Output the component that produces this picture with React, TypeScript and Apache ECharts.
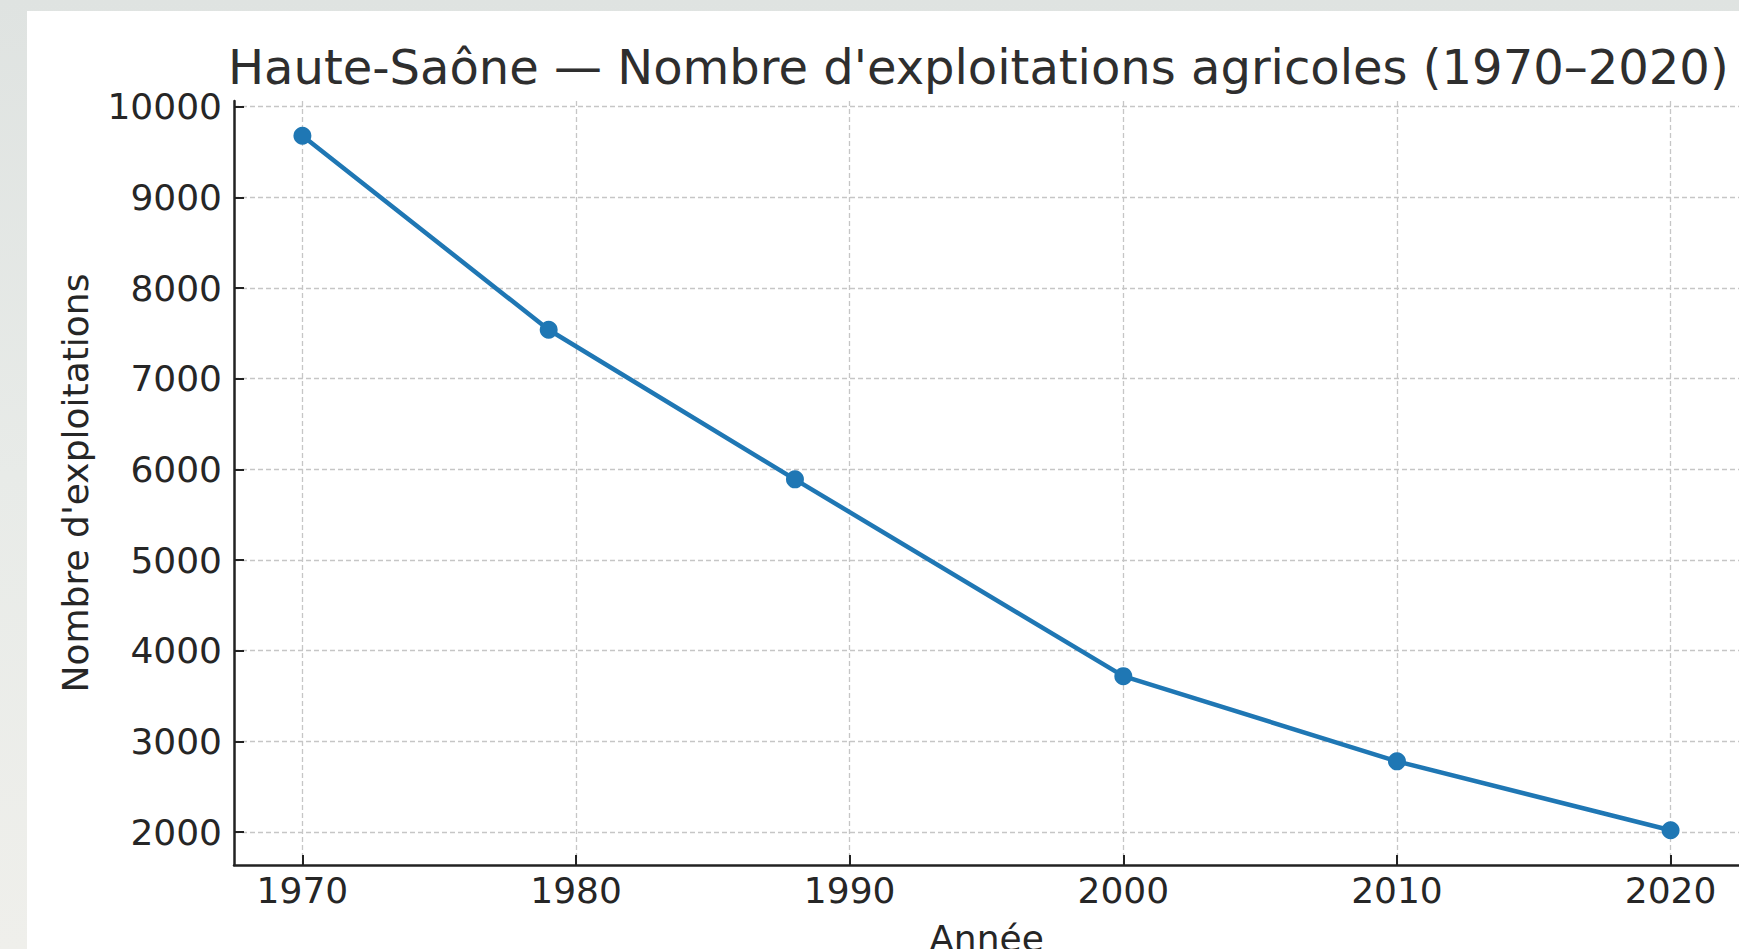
import React, { useEffect, useRef } from "react";
import * as echarts from "echarts";

const TITLE = "Haute-Saône — Nombre d'exploitations agricoles (1970–2020)";
const X_NAME = "Année";
const Y_NAME = "Nombre d'exploitations";

const years = [1970, 1979, 1988, 2000, 2010, 2020];
const farms = [9680, 7540, 5890, 3720, 2780, 2020];
const xTicks = [1970, 1980, 1990, 2000, 2010, 2020];
const yTicks = [2000, 3000, 4000, 5000, 6000, 7000, 8000, 9000, 10000];

const FONT = "DejaVu Sans";
const TEXT = "#262626";
const AXIS = "#222222";
const GRIDC = "#c6c6c6";

export default function App() {
  const ref = useRef<HTMLDivElement>(null);
  useEffect(() => {
    if (!ref.current) return;
    const chart = echarts.init(ref.current, null, { renderer: "svg" });
    const option: any = {
      animation: false,
      backgroundColor: "transparent",
      textStyle: { fontFamily: FONT },
      graphic: [
        {
          type: "rect",
          z: -10,
          silent: true,
          shape: { x: 27, y: 11, width: 1712, height: 938 },
          style: { fill: "#ffffff" },
        },
      ],
      title: {
        text: TITLE,
        left: 228,
        top: 42,
        padding: 0,
        textStyle: {
          fontFamily: FONT,
          fontSize: 48,
          lineHeight: 49,
          fontWeight: "normal",
          color: "#2e2e2e",
        },
      },
      grid: {
        left: 234,
        right: 0,
        top: 101,
        bottom: 84,
        outerBoundsMode: "none",
        containLabel: false,
      },
      xAxis: {
        type: "value",
        min: 1967.5,
        max: 2022.5,
        name: X_NAME,
        nameLocation: "middle",
        nameGap: 55,
        nameTextStyle: { fontFamily: FONT, fontSize: 36, lineHeight: 36, color: TEXT },
        axisLine: { show: true, onZero: false, lineStyle: { color: AXIS, width: 2.5 } },
        axisTick: {
          show: true,
          inside: true,
          length: 10,
          customValues: xTicks,
          lineStyle: { color: AXIS, width: 2 },
        },
        axisLabel: {
          customValues: xTicks,
          margin: 7,
          fontFamily: FONT,
          fontSize: 36,
          lineHeight: 36,
          color: TEXT,
          formatter: (v: number) => String(v),
        },
        splitLine: {
          show: true,
          lineStyle: { color: GRIDC, width: 1.3, type: [5, 3] },
        },
      },
      yAxis: {
        type: "value",
        min: 1637,
        max: 10063,
        name: Y_NAME,
        nameLocation: "middle",
        nameGap: 141,
        nameRotate: 90,
        nameTextStyle: { fontFamily: FONT, fontSize: 36, lineHeight: 36, color: TEXT },
        axisLine: { show: true, onZero: false, lineStyle: { color: AXIS, width: 2.5 } },
        axisTick: {
          show: true,
          inside: true,
          length: 10,
          customValues: yTicks,
          lineStyle: { color: AXIS, width: 2 },
        },
        axisLabel: {
          customValues: yTicks,
          margin: 12,
          fontFamily: FONT,
          fontSize: 36,
          lineHeight: 36,
          color: TEXT,
          formatter: (v: number) => String(v),
        },
        splitLine: {
          show: true,
          lineStyle: { color: GRIDC, width: 1.3, type: [5, 3] },
        },
      },
      series: [
        {
          type: "line",
          data: years.map((y, i) => [y, farms[i]]),
          symbol: "circle",
          symbolSize: 18,
          showSymbol: true,
          lineStyle: { color: "#1f77b4", width: 4.5 },
          itemStyle: { color: "#1f77b4" },
          z: 5,
        },
      ],
    };
    chart.setOption(option);
    return () => chart.dispose();
  }, []);
  return (
    <div
      ref={ref}
      style={{
        position: "absolute",
        left: 0,
        top: 0,
        width: 1739,
        height: 949,
        background: "linear-gradient(180deg, #dfe3e1 0%, #e8ebe8 50%, #efefeb 100%)",
      }}
    />
  );
}
